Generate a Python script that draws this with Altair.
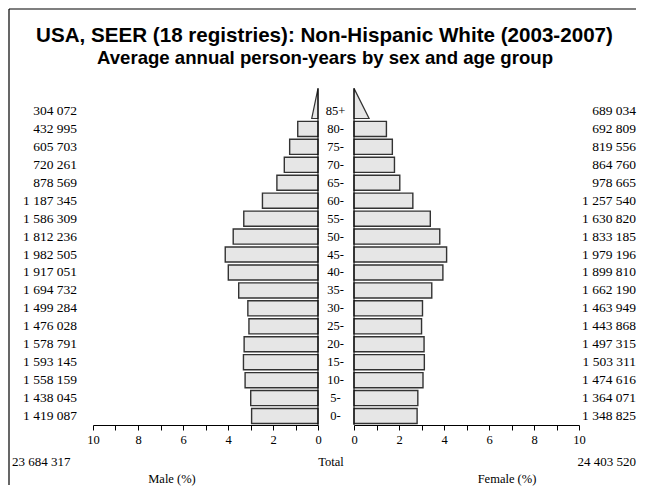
import altair as alt
import pandas as pd

# ---------------- data ----------------
ages = ["0-", "5-", "10-", "15-", "20-", "25-", "30-", "35-", "40-",
        "45-", "50-", "55-", "60-", "65-", "70-", "75-", "80-", "85+"]
male_counts = [1419087, 1438045, 1558159, 1593145, 1578791, 1476028, 1499284,
               1694732, 1917051, 1982505, 1812236, 1586309, 1187345, 878569,
               720261, 605703, 432995, 304072]
female_counts = [1348825, 1364071, 1474616, 1503311, 1497315, 1443868, 1463949,
                 1662190, 1899810, 1979196, 1833185, 1630820, 1257540, 978665,
                 864760, 819556, 692809, 689034]
male_total = 23684317
female_total = 24403520
# base width (in %) of the open-ended 85+ triangle, as drawn
tri_base_male = 0.28
tri_base_female = 0.67
x_ticks = list(range(0, 11))
title_lines = ["USA, SEER (18 registries): Non-Hispanic White (2003-2007)",
               "Average annual person-years by sex and age group"]

# ---------------- styling ----------------
SERIF = "Liberation Serif"
SANS = "Liberation Sans"
FILL = "#e6e6e6"
STROKE = "#333333"
W, GAP, H = 225, 36, 323
PAD = 0.08
LFS = 13.5


def fmt(n):
    return f"{n:,}".replace(",", " ")


grand = male_total + female_total
n = len(ages)
df = pd.DataFrame({
    "age": ages,
    "idx": list(range(n)),
    "male_label": [fmt(v) for v in male_counts],
    "female_label": [fmt(v) for v in female_counts],
})
df["ymid"] = df["idx"] + 0.5
df["y0"] = df["idx"] + PAD
df["y1"] = df["idx"] + 1 - PAD
df["x0"] = 0.0

male_bars = df.iloc[:-1].copy()
male_bars["x"] = [v / grand * 100 for v in male_counts[:-1]]
female_bars = df.iloc[:-1].copy()
female_bars["x"] = [v / grand * 100 for v in female_counts[:-1]]

top_i = n - 1
tri_y0 = top_i + PAD
tri_y1 = tri_y0 + 2 * (1 - 2 * PAD)


def tri_df(base):
    return pd.DataFrame({"x": [0.0, base], "y": [tri_y1, tri_y0], "y2": [tri_y0, tri_y0]})


yscale = alt.Scale(domain=[0, n], nice=False, zero=False)


def xaxis():
    return alt.Axis(values=x_ticks,
                    labelExpr="datum.value % 2 === 0 ? datum.label : ''",
                    title=None, grid=False, tickSize=5, tickColor="black",
                    domainColor="black", labelColor="black", labelFont=SERIF,
                    labelFontSize=12.5, labelPadding=3, labelFlush=False,
                    labelOverlap=False, tickWidth=1, domainWidth=1)


def panel(bars, tri, xscale, labels_field, label_x, total_text, total_x,
          total_align, sex_title, sex_x, frame=False):
    X = lambda f: alt.X(f, scale=xscale, axis=xaxis())
    Y = lambda f: alt.Y(f, scale=yscale, axis=None)
    b = alt.Chart(bars).mark_rect(fill=FILL, stroke=STROKE, strokeWidth=1.4).encode(
        x=X("x:Q"), x2="x0:Q", y=Y("y0:Q"), y2="y1:Q")
    t = alt.Chart(tri).mark_area(orient="vertical", fill=FILL, stroke=STROKE,
                                 strokeWidth=1.2).encode(
        x=X("x:Q"), y=Y("y:Q"), y2="y2:Q")
    vline = alt.Chart(pd.DataFrame({"x": [0.0], "y0": [0.0], "y1": [tri_y1]})).mark_rule(
        color="black", strokeWidth=1).encode(x=X("x:Q"), y=Y("y0:Q"), y2="y1:Q")
    lab = alt.Chart(df).mark_text(align="right", baseline="middle", font=SERIF,
                                  fontSize=LFS, color="black").encode(
        x=alt.value(label_x), y=Y("ymid:Q"), text=f"{labels_field}:N")
    tot = alt.Chart(pd.DataFrame({"t": [total_text]})).mark_text(
        align=total_align, baseline="middle", font=SERIF, fontSize=13,
        color="black").encode(x=alt.value(total_x), y=alt.value(360), text="t:N")
    st = alt.Chart(pd.DataFrame({"t": [sex_title]})).mark_text(
        align="center", baseline="middle", font=SERIF, fontSize=12.5,
        color="black").encode(x=alt.value(sex_x), y=alt.value(377), text="t:N")
    layers = [b, t, vline, lab, tot, st]
    if frame:
        fv = alt.Chart(pd.DataFrame({"d": [0]})).mark_rule(color="black", strokeWidth=1.2).encode(
            x=alt.value(-84), y=alt.value(-93), y2=alt.value(383))
        fh = alt.Chart(pd.DataFrame({"d": [0]})).mark_rule(color="black", strokeWidth=1.2).encode(
            x=alt.value(-84), x2=alt.value(543), y=alt.value(-93))
        layers += [fv, fh]
    return alt.layer(*layers).properties(width=W, height=H)


male = panel(male_bars, tri_df(tri_base_male),
             alt.Scale(domain=[0, 10], reverse=True, nice=False, zero=False),
             "male_label", -16, fmt(male_total), -81, "left", "Male (%)", 79, frame=True)
female = panel(female_bars, tri_df(tri_base_female),
               alt.Scale(domain=[0, 10], nice=False, zero=False),
               "female_label", 282, fmt(female_total), 282, "right", "Female (%)", 153)

age_lab = alt.Chart(df).mark_text(align="center", baseline="middle", font=SERIF,
                                  fontSize=12.5, color="black").encode(
    x=alt.value(17.5), y=alt.Y("ymid:Q", scale=yscale, axis=None), text="age:N")
total_c = alt.Chart(pd.DataFrame({"t": ["Total"]})).mark_text(
    align="center", baseline="middle", font=SERIF, fontSize=12.5, color="black").encode(
    x=alt.value(13), y=alt.value(360), text="t:N")
t1 = alt.Chart(pd.DataFrame({"t": [title_lines[0]]})).mark_text(
    align="center", baseline="middle", font=SANS, fontSize=20.6, fontWeight="bold",
    color="black").encode(x=alt.value(6.5), y=alt.value(-66), text="t:N")
t2 = alt.Chart(pd.DataFrame({"t": [title_lines[1]]})).mark_text(
    align="center", baseline="middle", font=SANS, fontSize=18.6, fontWeight="bold",
    color="black").encode(x=alt.value(7), y=alt.value(-44), text="t:N")
center = alt.layer(age_lab, total_c, t1, t2).properties(width=GAP, height=H)

chart = alt.hconcat(male, center, female, spacing=0, bounds="flush").properties(
    padding=0).configure_view(stroke=None)

chart.save("out.html", embed_options={"renderer": "svg", "actions": False})
